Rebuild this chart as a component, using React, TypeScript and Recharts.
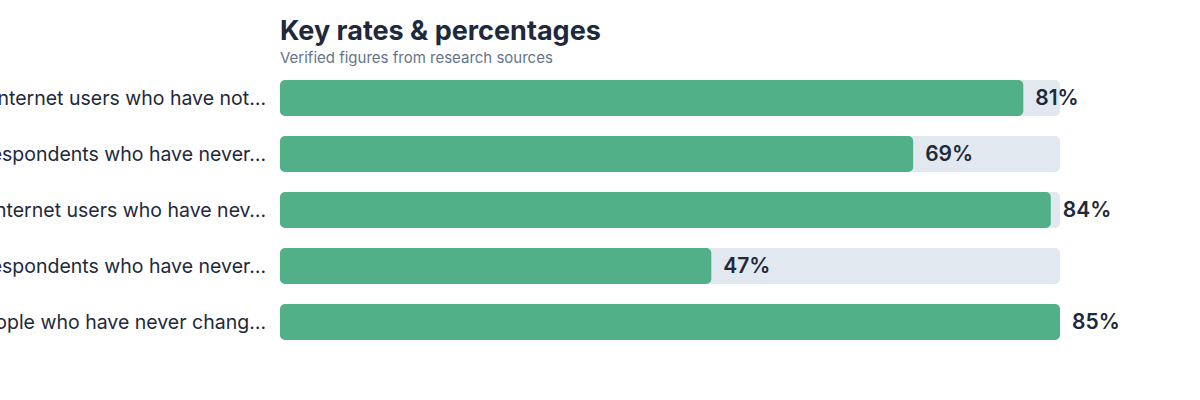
import React from "react";
import { BarChart, Bar, XAxis, YAxis, LabelList } from "recharts";

const categories = [
  "Internet users who have not…",
  "Respondents who have never…",
  "Internet users who have nev…",
  "Respondents who have never…",
  "People who have never chang…",
];
const values = [81, 69, 84, 47, 85];

const TITLE = "Key rates & percentages";
const SUBTITLE = "Verified figures from research sources";

const data = categories.map((name, i) => ({ id: i, name, value: values[i] }));

const FONT = "Inter, 'Noto Sans', sans-serif";

export default function App() {
  return (
    <div
      style={{
        position: "absolute",
        left: 0,
        top: 0,
        width: 1200,
        height: 400,
        background: "#ffffff",
        fontFamily: FONT,
        overflow: "hidden",
      }}
    >
      <div
        style={{
          position: "absolute",
          left: 280,
          top: 14,
          fontSize: 27,
          fontWeight: 700,
          color: "#1e293b",
          whiteSpace: "nowrap",
        }}
      >
        {TITLE}
      </div>
      <div
        style={{
          position: "absolute",
          left: 280,
          top: 48,
          fontSize: 15,
          color: "#64748b",
          whiteSpace: "nowrap",
        }}
      >
        {SUBTITLE}
      </div>
      <div style={{ position: "absolute", left: 0, top: 0 }}>
        <BarChart
          width={1200}
          height={400}
          data={data}
          layout="vertical"
          margin={{ top: 70, right: 140, bottom: 50, left: 0 }}
          barSize={36}
        >
          <XAxis type="number" domain={[0, 85]} hide />
          <YAxis
            type="category"
            dataKey="name"
            width={280}
            axisLine={false}
            tickLine={false}
            tickMargin={8}
            interval={0}
            tick={{ fill: "#1e293b", fontSize: 19.5, fontFamily: FONT }}
          />
          <Bar
            dataKey="value"
            fill="#52b088"
            radius={5}
            background={{ fill: "#e2e8f0", radius: 5 }}
            isAnimationActive={false}
          >
            <LabelList
              dataKey="value"
              position="right"
              offset={12}
              formatter={(v: number) => `${v}%`}
              fill="#1e293b"
              fontSize={21}
              fontWeight={600}
              fontFamily={FONT}
            />
          </Bar>
        </BarChart>
      </div>
    </div>
  );
}
